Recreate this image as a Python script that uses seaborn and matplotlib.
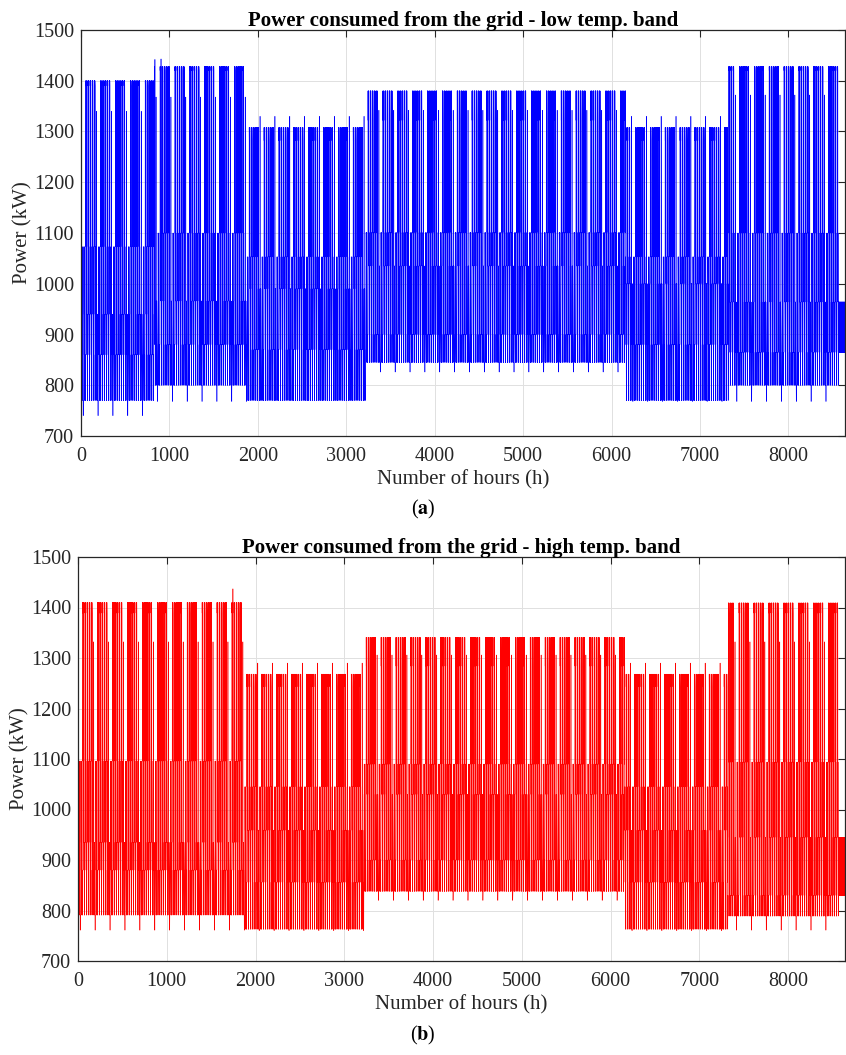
import numpy as np
import pandas as pd
import matplotlib
matplotlib.use("Agg")
import matplotlib.pyplot as plt
import seaborn as sns

# ---------------- data ----------------
N_DAYS = 360
SEASON_START_H = [0, 830, 1880, 3220, 6160, 7320]

# panel (a) - low temperature band: level values per season (kW)
A_PEAK = [1400, 1428, 1308, 1380, 1308, 1428]
A_SHOULDER = [1390, 1420, 1282, 1322, 1282, 1420]
A_SPIKE = [1340, 1368, 1330, 1342, 1330, 1372]
A_MID = [1073, 1100, 1053, 1101, 1053, 1100]
A_DENSE = [940, 966, 990, 1035, 1000, 964]
A_NIGHT = [860, 880, 870, 900, 880, 865]
A_LOW = [770, 800, 770, 845, 770, 800]
A_DIP = [740, 768, 770, 826, 768, 768]
A_EXTRA_H = [836, 905]
A_EXTRA_V = [1442, 1443]

# panel (b) - high temperature band
B_PEAK = [1410, 1410, 1268, 1341, 1268, 1409]
B_SHOULDER = [1389, 1389, 1243, 1284, 1243, 1389]
B_SPIKE = [1332, 1332, 1290, 1306, 1290, 1332]
B_MID = [1096, 1096, 1045, 1090, 1045, 1094]
B_DENSE = [935, 935, 959, 1030, 959, 945]
B_NIGHT = [880, 880, 856, 900, 856, 830]
B_LOW = [791, 791, 763, 838, 763, 789]
B_DIP = [761, 761, 760, 820, 760, 761]
B_EXTRA_H = [1745]
B_EXTRA_V = [1437]

# daily profiles (which level each hour takes)
WEEKDAY = ['low', 'night', 'low', 'low', 'night', 'dense', 'peak', 'shoulder', 'peak', 'mid',
           'shoulder', 'peak', 'shoulder', 'mid', 'peak', 'shoulder', 'dense', 'mid', 'dense',
           'night', 'dense', 'night', 'low', 'low']
SATURDAY = ['low', 'night', 'low', 'low', 'night', 'night', 'dense', 'dense', 'mid', 'spike',
            'mid', 'dense', 'dense', 'night', 'dense', 'dense', 'low', 'dense', 'night',
            'night', 'night', 'low', 'low', 'low']
SUNDAY = ['low', 'dip', 'low', 'low', 'night', 'night', 'dense', 'dense', 'mid', 'dense',
          'dense', 'dense', 'night', 'dense', 'dense', 'low', 'mid', 'dense', 'night',
          'night', 'night', 'low', 'low', 'low']
HOLIDAY_END = ['night', 'dense'] * 12
WEEK = ['SA', 'SU', 'WD', 'WD', 'WD', 'WD', 'WD']
HOLIDAYS = [0]
END_HOLIDAYS = [357, 358, 359]

X_TICKS = list(range(0, 8001, 1000))
Y_TICKS = list(range(700, 1501, 100))
TITLES = ["Power consumed from the grid - low temp. band",
          "Power consumed from the grid - high temp. band"]
CAPTIONS = [r"($\mathbf{a}$)", r"($\mathbf{b}$)"]
COLORS = ["#0000ff", "#ff0000"]

PROFILES = {'WD': WEEKDAY, 'SA': SATURDAY, 'SU': SUNDAY}


def build(levels, extra_h, extra_v):
    hours = np.arange(N_DAYS * 24)
    season = np.searchsorted(SEASON_START_H, hours, side='right') - 1
    vals = np.empty(len(hours), dtype=float)
    for d in range(N_DAYS):
        if d in END_HOLIDAYS:
            prof = HOLIDAY_END
        elif d in HOLIDAYS:
            prof = SUNDAY
        else:
            prof = PROFILES[WEEK[d % 7]]
        for h in range(24):
            t = d * 24 + h
            vals[t] = levels[prof[h]][season[t]]
    vals[extra_h] = extra_v
    return pd.DataFrame({"hour": hours, "power": vals})


df_a = build(dict(peak=A_PEAK, shoulder=A_SHOULDER, spike=A_SPIKE, mid=A_MID,
                  dense=A_DENSE, night=A_NIGHT, low=A_LOW, dip=A_DIP), A_EXTRA_H, A_EXTRA_V)
df_b = build(dict(peak=B_PEAK, shoulder=B_SHOULDER, spike=B_SPIKE, mid=B_MID,
                  dense=B_DENSE, night=B_NIGHT, low=B_LOW, dip=B_DIP), B_EXTRA_H, B_EXTRA_V)

# ---------------- plotting ----------------
sns.set_theme(style="white")
plt.rcParams['font.family'] = ['Liberation Serif', 'DejaVu Serif']
plt.rcParams['mathtext.fontset'] = 'stix'

W, H = 846, 1055
fig = plt.figure(figsize=(W / 100, H / 100), dpi=100)

boxes = [(81, 30, 845, 436), (78, 557, 845, 961)]
cap_y = [509, 1035]
for i, (df, box) in enumerate(zip([df_a, df_b], boxes)):
    l, t, r, b = box
    ax = fig.add_axes([l / W, 1 - b / H, (r - l) / W, (b - t) / H])
    sns.lineplot(data=df, x="hour", y="power", ax=ax, color=COLORS[i],
                 linewidth=0.4, estimator=None, sort=False)
    ax.set_xlim(0, 8640)
    ax.set_ylim(700, 1500)
    ax.set_xticks(X_TICKS)
    ax.set_yticks(Y_TICKS)
    ax.grid(True, color="#e0e0e0", linewidth=0.7)
    ax.set_axisbelow(True)
    for s in ax.spines.values():
        s.set_color("#262626")
        s.set_linewidth(0.9)
    ax.tick_params(direction="in", length=5, width=0.8, top=True, right=True,
                   labelsize=14.5, colors="#262626")
    ax.tick_params(axis="x", pad=8)
    ax.tick_params(axis="y", pad=5)
    ax.set_xlabel("Number of hours (h)", fontsize=15, color="#262626", labelpad=3)
    ax.set_ylabel("Power (kW)", fontsize=15, color="#262626", labelpad=1)
    ax.set_title(TITLES[i], fontsize=15, fontweight="bold", pad=3, color="black")
    fig.text(423 / W, 1 - cap_y[i] / H, CAPTIONS[i], ha="center", va="center",
             fontsize=14.5, color="black")

fig.savefig("out.png", dpi=100)
